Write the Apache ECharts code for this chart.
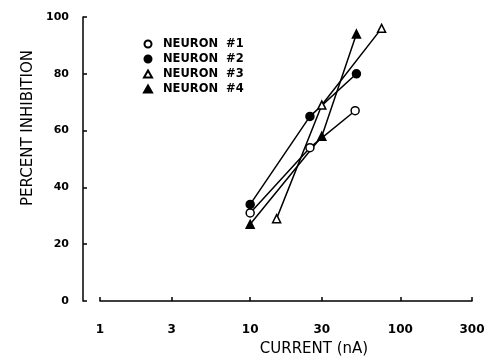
<!DOCTYPE html>
<html>
<head>
<meta charset="utf-8">
<script src="https://cdn.jsdelivr.net/npm/echarts@6/dist/echarts.min.js"></script>
<style>
  html, body { margin: 0; padding: 0; background: #fff; }
  #chart { width: 492px; height: 362px; }
</style>
</head>
<body>
<div id="chart"></div>
<script>
// current (nA) and percent inhibition
const neuron1X = [10, 25, 50];
const neuron1Y = [31, 54, 67];
const neuron2X = [10, 25, 51];
const neuron2Y = [34, 65, 80];
const neuron3X = [15, 30, 75];
const neuron3Y = [29, 69, 96];
const neuron4X = [10, 30, 51];
const neuron4Y = [27, 58, 94];

const xTickValues = [1, 3, 10, 30, 100, 300];
const seriesNames = ["NEURON  #1", "NEURON  #2", "NEURON  #3", "NEURON  #4"];

const pairs = (xs, ys) => xs.map((x, i) => [x, ys[i]]);

const font = "DejaVu Sans";

const makeSeries = (name, data, symbol, filled, size) => ({
  name: name,
  type: "line",
  data: data,
  symbol: symbol,
  symbolSize: size,
  showSymbol: true,
  lineStyle: { color: "#000", width: 1.5 },
  itemStyle: {
    color: filled ? "#000" : "#fff",
    borderColor: "#000",
    borderWidth: 1.5,
  },
  z: 3,
});

const chart = echarts.init(document.getElementById("chart"));

const option = {
  animation: false,
  backgroundColor: "#fff",
  grid: {
    left: 100,
    right: 20,
    top: 17,
    bottom: 57,
  },
  legend: {
    orient: "vertical",
    left: 138,
    top: 33,
    itemGap: 3,
    itemWidth: 8,
    itemHeight: 7,
    textStyle: {
      fontFamily: font,
      fontWeight: "bold",
      fontSize: 11.5,
      color: "#000",
      padding: [0, 0, 0, 6],
    },
    data: [
      { name: seriesNames[0], icon: "circle" },
      { name: seriesNames[1], icon: "circle" },
      { name: seriesNames[2], icon: "triangle" },
      { name: seriesNames[3], icon: "triangle" },
    ],
  },
  xAxis: {
    type: "log",
    logBase: 10,
    min: 1,
    max: 300,
    offset: 14,
    name: "CURRENT (nA)",
    nameLocation: "middle",
    nameGap: 27,
    nameTextStyle: {
      fontFamily: font,
      fontSize: 15,
      color: "#000",
      padding: [0, 0, 0, 56],
    },
    axisLine: { lineStyle: { color: "#000", width: 1.5 } },
    axisTick: {
      inside: true,
      length: 4,
      lineStyle: { color: "#000", width: 1.5 },
      customValues: xTickValues,
    },
    axisLabel: {
      margin: 9,
      fontFamily: font,
      fontWeight: "bold",
      fontSize: 12,
      color: "#000",
      customValues: xTickValues,
    },
    splitLine: { show: false },
    minorTick: { show: false },
  },
  yAxis: {
    type: "value",
    min: 0,
    max: 100,
    interval: 20,
    offset: 17,
    name: "PERCENT INHIBITION",
    nameLocation: "middle",
    nameGap: 44,
    nameTextStyle: {
      fontFamily: font,
      fontSize: 15,
      color: "#000",
      padding: [0, 0, 0, 62],
    },
    axisLine: { show: true, lineStyle: { color: "#000", width: 1.5 } },
    axisTick: {
      show: true,
      inside: true,
      length: 4,
      lineStyle: { color: "#000", width: 1.5 },
    },
    axisLabel: {
      margin: 14,
      fontFamily: font,
      fontWeight: "bold",
      fontSize: 11,
      color: "#000",
    },
    splitLine: { show: false },
  },
  series: [
    makeSeries(seriesNames[0], pairs(neuron1X, neuron1Y), "circle", false, 8),
    makeSeries(seriesNames[1], pairs(neuron2X, neuron2Y), "circle", true, 8),
    makeSeries(seriesNames[2], pairs(neuron3X, neuron3Y), "triangle", false, 8),
    makeSeries(seriesNames[3], pairs(neuron4X, neuron4Y), "triangle", true, 8),
  ],
};

chart.setOption(option);
</script>
</body>
</html>
